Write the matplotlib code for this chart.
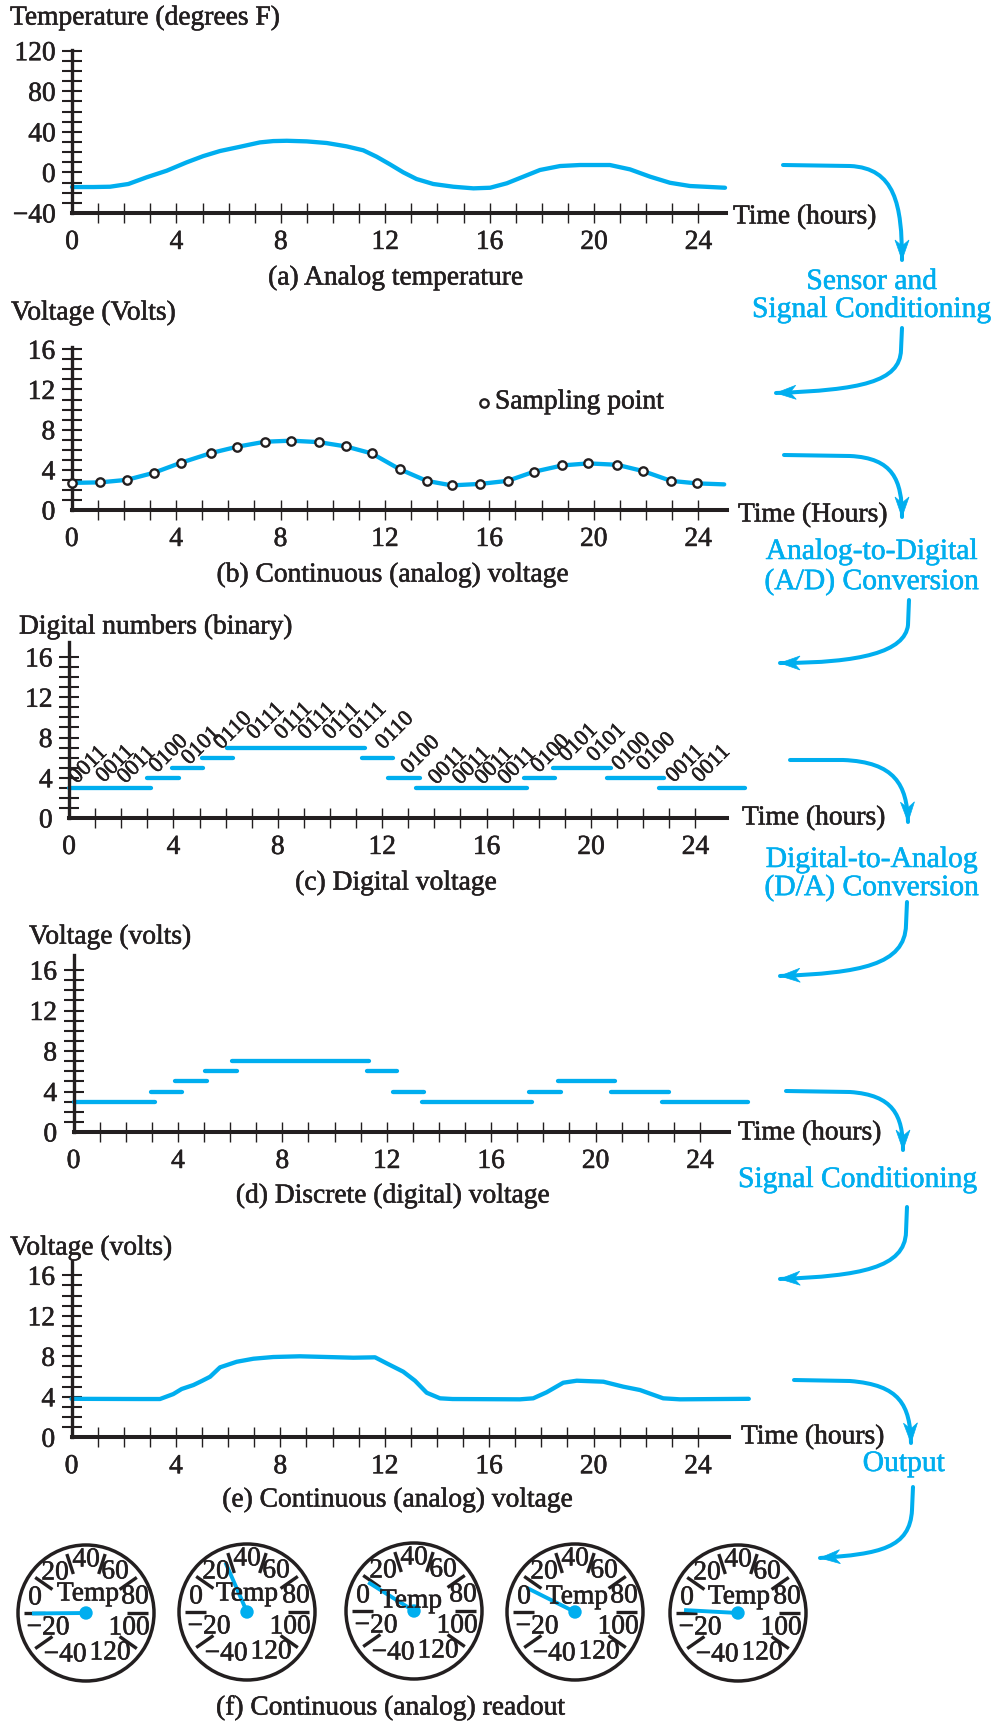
import numpy as np
import matplotlib
matplotlib.use('Agg')
import matplotlib.pyplot as plt
import matplotlib.patheffects as pe
from matplotlib.path import Path
from matplotlib.patches import PathPatch, Polygon, Circle
from matplotlib.text import Text

plt.rcParams['font.family'] = ['Liberation Serif', 'DejaVu Serif']

BLUE = '#00AEEF'
INK = '#231F20'
W, H = 994, 1723
FS = 19.8

# (a) analog temperature
temp_t = [0, 0.82, 1.46, 2.16, 2.86, 3.63, 4.39, 5.03, 5.67, 6.44, 7.2, 7.71, 8.23, 8.99, 9.76,
          10.52, 11.16, 11.67, 12.18, 12.69, 13.2, 13.84, 14.61, 15.38, 16.02, 16.66, 17.29,
          17.93, 18.7, 19.46, 20.61, 21.38, 22.15, 22.91, 23.68, 25.02]
temp_v = [-14.4, -14.4, -14.1, -11.4, -4.8, 1.7, 9.9, 16.1, 21.1, 25.3, 29.6, 30.9, 31.2, 30.6, 29,
          25.7, 21.8, 15.5, 8, 0.1, -6.5, -11.4, -14.1, -15.7, -15.1, -10.7, -4.2,
          2.4, 6.3, 7.3, 7.3, 3, -4.2, -10.2, -13.4, -15.1]

# (b) sampled voltage
samp_t = [0, 1.08, 2.11, 3.14, 4.18, 5.34, 6.34, 7.41, 8.41, 9.46, 10.5, 11.5, 12.56, 13.6,
          14.56, 15.66, 16.7, 17.7, 18.8, 19.8, 20.9, 21.9, 22.96, 23.96]
samp_v = [2.7, 2.75, 3.0, 3.7, 4.7, 5.67, 6.3, 6.8, 6.9, 6.76, 6.33, 5.63, 4.07, 2.9,
          2.45, 2.6, 2.9, 3.8, 4.44, 4.64, 4.5, 3.87, 2.9, 2.65]
end_t, end_v = 25.0, 2.55

# (c) binary steps: level, start, stop
steps_c = [(3, 0, 3.14), (4, 2.99, 4.2), (5, 3.93, 5.14), (6, 5.08, 6.28), (7, 6.07, 11.33),
           (6, 11.23, 12.43), (4, 12.23, 13.44), (3, 13.3, 17.56), (4, 17.45, 18.63),
           (5, 18.54, 20.76), (4, 20.6, 22.8), (3, 22.6, 25.9)]
codes = ['0011', '0011', '0011', '0100', '0101', '0110', '0111', '0111', '0111', '0111', '0111',
         '0110', '0100', '0011', '0011', '0011', '0011', '0100', '0101', '0101', '0100', '0100',
         '0011', '0011']
code_t = [0.77, 1.8, 2.62, 3.85, 5.09, 6.31, 7.57, 8.63, 9.53, 10.48, 11.48, 12.51, 13.5,
          14.54, 15.46, 16.32, 17.2, 18.48, 19.55, 20.62, 21.58, 22.53, 23.64, 24.64]
code_y = [5.2, 5.3, 5.2, 6.3, 7.1, 8.6, 9.55, 9.55, 9.55, 9.55, 9.55, 8.6, 6.2,
          5.1, 5.1, 5.1, 5.1, 6.3, 7.4, 7.4, 6.5, 6.5, 5.3, 5.3]

# (d) discrete voltage
steps_d = [(3, 0, 3.13), (4, 2.96, 4.16), (5, 3.9, 5.1), (6, 5.04, 6.25), (7, 6.07, 11.34),
           (6, 11.24, 12.4), (4, 12.24, 13.43), (3, 13.35, 17.57), (4, 17.47, 18.67),
           (5, 18.58, 20.75), (4, 20.58, 22.8), (3, 22.56, 25.85)]

# (e) smoothed voltage
smooth_t = [0, 2.62, 3.39, 3.9, 4.22, 4.67, 4.99, 5.31, 5.69, 6.33, 6.97, 7.73, 8.75, 9.78, 10.8,
            11.63, 12.08, 12.71, 13.16, 13.61, 14.12, 14.6, 17.18, 17.69, 18.2, 18.84, 19.36,
            20.38, 21.14, 21.78, 22.67, 23.31, 25.95]
smooth_v = [3.8, 3.78, 3.78, 4.27, 4.77, 5.16, 5.56, 5.98, 6.91, 7.46, 7.76, 7.93, 8.0, 7.93, 7.86,
            7.9, 7.3, 6.48, 5.59, 4.4, 3.85, 3.78, 3.75, 3.85, 4.44, 5.39, 5.59,
            5.49, 5.0, 4.67, 3.85, 3.75, 3.8]

# (f) dial readings
needle_temps = [-10, 27, 8, 5, -8]
dial_x = [86, 247, 414, 575, 738]
dial_y = [1613, 1612, 1611, 1612, 1613]
temp_off = [(2, 19), (0, 18), (-3, 10), (2, 15), (1, 16)]
dial_ticks = [215, 180, 145, 108, 72, 35, 0, -35]
dial_labels = ['\u221240', '\u221220', '0', '20', '40', '60', '80', '100', '120']
dial_off = [(-21, -42), (-38, -15), (-51, 15), (-31, 40), (0, 53), (29, 41), (49, 16), (43, -15), (24, -40)]

# panels: x0, y0 and y top in pixels, x end hours, y range, labelled y ticks, minor step
panels = [
    dict(x0=72, y0=213, yv=50.7, xend=25.05, ymin=-40, yval=120, ytop=121, ymaj=[-40, 0, 40, 80, 120], step=10,
         ylab=['\u221240', '0', '40', '80', '120']),
    dict(x0=71.7, y0=510, yv=349.3, xend=25.1, ymin=0, yval=16, ytop=16.2, ymaj=[0, 4, 8, 12, 16], step=1,
         ylab=['0', '4', '8', '12', '16']),
    dict(x0=69, y0=818, yv=657, xend=25.2, ymin=0, yval=16, ytop=17.5, ymaj=[0, 4, 8, 12, 16], step=1,
         ylab=['0', '4', '8', '12', '16']),
    dict(x0=73.5, y0=1132, yv=970, xend=25.1, ymin=0, yval=16, ytop=17.5, ymaj=[0, 4, 8, 12, 16], step=1,
         ylab=['0', '4', '8', '12', '16']),
    dict(x0=71.5, y0=1437.3, yv=1275.3, xend=25.2, ymin=0, yval=16, ytop=17.4, ymaj=[0, 4, 8, 12, 16], step=1,
         ylab=['0', '4', '8', '12', '16']),
]
X_SCALE = 26.1

fig = plt.figure(figsize=(W / 100, H / 100), dpi=100)


def make_axes(p):
    sy = (p['y0'] - p['yv']) / (p['yval'] - p['ymin'])
    top = p['y0'] - (p['ytop'] - p['ymin']) * sy
    width = p['xend'] * X_SCALE
    ax = fig.add_axes([p['x0'] / W, 1 - p['y0'] / H, width / W, (p['y0'] - top) / H])
    ax.set_xlim(0, p['xend'])
    ax.set_ylim(p['ymin'], p['ytop'])
    ax.patch.set_visible(False)
    for s in ['top', 'right']:
        ax.spines[s].set_visible(False)
    ax.spines['left'].set_linewidth(2.4)
    ax.spines['bottom'].set_linewidth(2.9)
    ax.spines['left'].set_color(INK)
    ax.spines['bottom'].set_color(INK)
    ax.set_xticks([0, 4, 8, 12, 16, 20, 24])
    ax.set_xticks(np.arange(1, 25), minor=True)
    ax.set_yticks(p['ymaj'])
    ax.set_yticklabels(p['ylab'])
    ax.set_yticks(np.arange(p['ymin'] + p['step'], p['yval'] + 1, p['step']), minor=True)
    ax.tick_params(axis='x', which='both', direction='inout', length=14.4, width=1.0, color=INK)
    ax.tick_params(axis='x', which='major', pad=5, labelsize=FS, labelcolor=INK)
    ax.tick_params(axis='y', which='both', direction='inout', length=13.7, width=1.5, color=INK)
    ax.tick_params(axis='y', which='major', pad=5, labelsize=FS, labelcolor=INK)
    ax.xaxis.get_major_ticks()[0].tick1line.set_visible(False)
    ax.yaxis.get_major_ticks()[0].tick1line.set_visible(False)
    return ax


axes = [make_axes(p) for p in panels]
line = dict(color=BLUE, lw=3.1, solid_capstyle='round', solid_joinstyle='round', clip_on=False)

axes[0].plot(temp_t, temp_v, **line)
axes[1].plot(samp_t + [end_t], samp_v + [end_v], **line)
axes[1].plot(samp_t, samp_v, 'o', ms=6, mfc='white', mec=INK, mew=1.7, ls='none', clip_on=False, zorder=5)

for lev, a, b in steps_c:
    axes[2].plot([a, b], [lev, lev], **line)
for c, tx, ty in zip(codes, code_t, code_y):
    axes[2].text(tx, ty, c, rotation=45, ha='center', va='center', fontsize=16, color=INK)
for lev, a, b in steps_d:
    axes[3].plot([a, b], [lev, lev], **line)
axes[4].plot(smooth_t, smooth_v, **line)

# overlay in pixel coordinates for captions, arrows and dials
ov = fig.add_axes([0, 0, 1, 1])
ov.set_xlim(0, W)
ov.set_ylim(H, 0)
ov.axis('off')
ov.patch.set_visible(False)

axis_titles = [('Temperature (degrees F)', 10, 18), ('Voltage (Volts)', 11, 313),
               ('Digital numbers (binary)', 19, 627), ('Voltage (volts)', 29, 937),
               ('Voltage (volts)', 10, 1248)]
for s, x, y in axis_titles:
    ov.text(x, y, s, ha='left', va='center', fontsize=FS, color=INK)

time_labels = [('Time (hours)', 733, 217), ('Time (Hours)', 738, 515), ('Time (hours)', 742, 818),
               ('Time (hours)', 738, 1133), ('Time (hours)', 741, 1437)]
for s, x, y in time_labels:
    ov.text(x, y, s, ha='left', va='center', fontsize=FS, color=INK)

captions = [('(a) Analog temperature', 396, 278), ('(b) Continuous (analog) voltage', 393, 575),
            ('(c) Digital voltage', 396, 883), ('(d) Discrete (digital) voltage', 393, 1196),
            ('(e) Continuous (analog) voltage', 398, 1500), ('(f) Continuous (analog) readout', 391, 1708)]
for s, x, y in captions:
    ov.text(x, y, s, ha='center', va='center', fontsize=FS, color=INK)

ov.plot([484], [403], 'o', ms=6, mfc='white', mec=INK, mew=1.7)
ov.text(495, 402, 'Sampling point', ha='left', va='center', fontsize=FS, color=INK)

stages = [('Sensor and', 872, 282), ('Signal Conditioning', 872, 310),
          ('Analog-to-Digital', 872, 552), ('(A/D) Conversion', 872, 582),
          ('Digital-to-Analog', 872, 860), ('(D/A) Conversion', 872, 888),
          ('Signal Conditioning', 858, 1180), ('Output', 904, 1464)]
for s, x, y in stages:
    ov.text(x, y, s, ha='center', va='center', fontsize=21.3, color=BLUE)

# each route: start, straight end, two controls, tip
down_arrows = [
    [(783, 165), (850, 166), (895, 168), (902, 205), (902, 260)],
    [(784, 455), (850, 456), (893, 458), (902, 480), (902, 517)],
    [(790, 760), (843, 760), (895, 762), (907, 785), (908, 822)],
    [(786, 1091), (850, 1092), (893, 1095), (903, 1115), (903, 1150)],
    [(794, 1380), (850, 1381), (900, 1385), (910, 1405), (911, 1443)],
]
back_arrows = [
    [(902, 328), (901, 350), (900, 382), (860, 390), (776, 393)],
    [(909, 600), (908, 625), (905, 652), (860, 663), (780, 663)],
    [(907, 902), (906, 925), (905, 965), (860, 973), (780, 976)],
    [(907, 1207), (906, 1232), (905, 1268), (860, 1276), (780, 1279)],
    [(913, 1487), (912, 1510), (910, 1548), (880, 1554), (820, 1558)],
]


def route(pts):
    verts = [pts[0], pts[1], pts[2], pts[3], pts[4]]
    cmds = [Path.MOVETO, Path.LINETO, Path.CURVE4, Path.CURVE4, Path.CURVE4]
    ov.add_patch(PathPatch(Path(verts, cmds), fc='none', ec=BLUE, lw=2.9, capstyle='round'))
    tip = np.array(pts[4], dtype=float)
    d = tip - np.array(pts[3], dtype=float)
    d = d / np.linalg.norm(d)
    n = np.array([-d[1], d[0]])
    head = [tip, tip - 20 * d + 7 * n, tip - 14 * d, tip - 20 * d - 7 * n]
    ov.add_patch(Polygon(head, closed=True, fc=BLUE, ec=BLUE, lw=0.5))


for pts in down_arrows + back_arrows:
    route(pts)


def dial(cx, cy, temp, toff):
    ov.add_patch(Circle((cx, cy), 68, fc='none', ec=INK, lw=2.5))
    for a in dial_ticks:
        c, s = np.cos(np.radians(a)), np.sin(np.radians(a))
        ov.plot([cx + 41 * c, cx + 62 * c], [cy - 41 * s, cy - 62 * s], color=INK, lw=2.4, solid_capstyle='butt')
    ang = np.radians(90 - (temp - 40) * 1.81)
    ov.plot([cx, cx + 54 * np.cos(ang)], [cy, cy - 54 * np.sin(ang)], color=BLUE, lw=2.8, solid_capstyle='butt', zorder=3)
    ov.add_patch(Circle((cx, cy), 6.7, fc=BLUE, ec='none', zorder=3))
    for s, (dx, dy) in zip(dial_labels, dial_off):
        ov.text(cx + dx, cy - dy, s, ha='center', va='center', fontsize=FS, color=INK, zorder=4)
    ov.text(cx + toff[0], cy - toff[1], 'Temp', ha='center', va='center', fontsize=FS, color=INK, zorder=4)


for cx, cy, t, off in zip(dial_x, dial_y, needle_temps, temp_off):
    dial(cx, cy, t, off)

# the print is slightly heavier than the plain font
for t in fig.findobj(Text):
    t.set_path_effects([pe.withStroke(linewidth=0.4, foreground=t.get_color())])

fig.savefig('out.png', dpi=100, facecolor='white')
